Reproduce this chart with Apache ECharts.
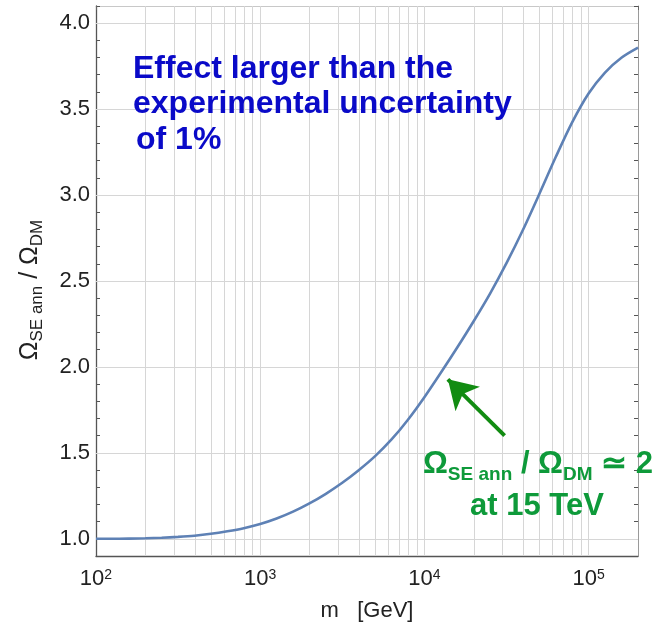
<!DOCTYPE html>
<html>
<head>
<meta charset="utf-8">
<script src="https://cdn.jsdelivr.net/npm/echarts@6/dist/echarts.min.js"></script>
<style>
  html, body { margin: 0; padding: 0; background: #ffffff; }
  #chart { width: 670px; height: 632px; }
</style>
</head>
<body>
<div id="chart"></div>
<script>
// Relic abundance ratio with Sommerfeld enhancement vs. dark-matter mass
const massGeV = [100, 126, 158, 200, 251, 316, 398, 501, 631, 794,
  1000, 1259, 1585, 1995, 2512, 3162, 3981, 5012, 6310, 7943,
  10000, 12589, 15849, 19953, 25119, 31623, 39811, 50119, 63096, 79433,
  100000, 125893, 158489, 200000];
const ratio = [1.000, 1.000, 1.001, 1.003, 1.006, 1.011, 1.018, 1.029, 1.044, 1.062,
  1.086, 1.118, 1.158, 1.206, 1.262, 1.326, 1.399, 1.481, 1.578, 1.693,
  1.824, 1.966, 2.113, 2.266, 2.427, 2.604, 2.797, 3.006, 3.221, 3.423,
  3.591, 3.713, 3.799, 3.858];

// Axis ranges and grid positions
const xRange = [100, 200000];
const yRange = [0.9, 4.1];
const yTickStep = 0.1;
const yLabelValues = [1.0, 1.5, 2.0, 2.5, 3.0, 3.5, 4.0];
const xGridValues = [200, 300, 400, 500, 600, 700, 800, 900, 1000,
  2000, 3000, 4000, 5000, 6000, 7000, 8000, 9000, 10000,
  20000, 30000, 40000, 50000, 60000, 70000, 80000, 90000, 100000];

// Annotation arrow (from the label towards the curve), in data coordinates
const arrowTail = [30800, 1.60];
const arrowHead = [13900, 1.928];

const FONT = "'Liberation Sans', Arial, Helvetica, sans-serif";
const INK = '#222222';
const BLUE = '#0a0ac8';
const GREEN = '#0e9a3a';

const points = massGeV.map((m, i) => [m, ratio[i]]);

function powerLabel(v) {
  const e = Math.log10(v);
  if (Math.abs(e - Math.round(e)) > 1e-6) return '';
  return '{b|10}{s|' + Math.round(e) + '}';
}
function ratioLabel(v) {
  const hit = yLabelValues.some(t => Math.abs(t - v) < 1e-6);
  return hit ? v.toFixed(1) : '';
}

const chart = echarts.init(document.getElementById('chart'), null, { renderer: 'canvas' });

const blueText = (text, x, y) => ({
  type: 'text', x: x, y: y, z: 100,
  style: { text: text, fontFamily: FONT, fontSize: 32, fontWeight: 'bold', fill: BLUE, stroke: null, lineWidth: 0, verticalAlign: 'bottom' }
});

chart.setOption({
  animation: false,
  grid: { left: 96, right: 32, top: 6, bottom: 76 },
  xAxis: [
    {
      type: 'log', logBase: 10, min: xRange[0], max: xRange[1], position: 'bottom',
      name: 'm   [GeV]', nameLocation: 'middle', nameGap: 44,
      nameTextStyle: { fontFamily: FONT, fontSize: 22, color: INK },
      axisLine: { lineStyle: { color: '#555', width: 1.3 } },
      axisTick: { inside: true, length: 5, lineStyle: { color: '#555' } },
      axisLabel: {
        margin: 12, showMaxLabel: false, formatter: powerLabel,
        rich: {
          b: { fontFamily: FONT, fontSize: 22, color: INK },
          s: { fontFamily: FONT, fontSize: 14, color: INK, verticalAlign: 'top' }
        }
      },
      splitLine: { show: false }
    },
    {
      type: 'log', logBase: 10, min: xRange[0], max: xRange[1], position: 'top',
      axisLine: { lineStyle: { color: '#c8c8c8', width: 1 } },
      axisTick: { inside: true, length: 4, lineStyle: { color: '#666' } },
      axisLabel: { show: false },
      splitLine: { show: false }
    }
  ],
  yAxis: [
    {
      type: 'value', min: yRange[0], max: yRange[1], interval: yTickStep, position: 'left',
      name: '{o|Ω}{s|SE ann}{o| / Ω}{s|DM}', nameLocation: 'middle', nameGap: 50, nameRotate: 90,
      nameTextStyle: {
        padding: [0, 18, 0, 0],
        rich: {
          o: { fontFamily: FONT, fontSize: 25, color: INK, lineHeight: 31 },
          s: { fontFamily: FONT, fontSize: 17, color: INK, verticalAlign: 'bottom', lineHeight: 17 }
        }
      },
      axisLine: { lineStyle: { color: '#555', width: 1.3 } },
      axisTick: { inside: true, length: 4, lineStyle: { color: '#555' } },
      axisLabel: { margin: 6, formatter: ratioLabel, fontFamily: FONT, fontSize: 22, color: INK, padding: [3, 0, 0, 0] },
      splitLine: { show: false }
    },
    {
      type: 'value', min: yRange[0], max: yRange[1], interval: yTickStep, position: 'right',
      axisLine: { show: true, lineStyle: { color: '#9a9a9a', width: 1 } },
      axisTick: { show: true, inside: true, length: 4, lineStyle: { color: '#555' } },
      axisLabel: { show: false },
      splitLine: { show: false }
    }
  ],
  series: [
    {
      // carrier for the background grid lines
      type: 'line', data: points, silent: true, showSymbol: false,
      lineStyle: { opacity: 0 }, z: 1,
      markLine: {
        z: 1, silent: true, symbol: 'none', animation: false,
        label: { show: false },
        lineStyle: { color: '#d6d6d6', width: 1, type: 'solid' },
        emphasis: { disabled: true },
        data: xGridValues.map(v => ({ xAxis: v })).concat(yLabelValues.map(v => ({ yAxis: v })))
      }
    },
    {
      type: 'line', data: points, smooth: 0.3,
      showSymbol: false, silent: true, z: 3,
      lineStyle: { color: '#5e81b5', width: 2.6 },
      markLine: {
        silent: true, animation: false,
        symbol: ['none', 'arrow'], symbolSize: [26, 28],
        label: { show: false },
        lineStyle: { color: '#128c12', width: 4, type: 'solid', opacity: 1 },
        emphasis: { disabled: true },
        data: [[{ coord: arrowTail }, { coord: arrowHead }]]
      }
    }
  ],
  graphic: [
    blueText('Effect larger than the', 133, 85),
    blueText('experimental uncertainty', 133, 120),
    blueText('of 1%', 136, 156),
    {
      type: 'text', x: 538, y: 484, z: 100,
      style: {
        text: '{o|Ω}{s|SE ann}{o| / Ω}{s|DM}{o| ≃ 2}',
        align: 'center', verticalAlign: 'bottom', stroke: null, lineWidth: 0,
        rich: {
          o: { fontFamily: FONT, fontSize: 31, fontWeight: 'bold', fill: GREEN, lineHeight: 40 },
          s: { fontFamily: FONT, fontSize: 19, fontWeight: 'bold', fill: GREEN, verticalAlign: 'bottom', lineHeight: 19 }
        }
      }
    },
    {
      type: 'text', x: 537, y: 522, z: 100,
      style: { text: 'at 15 TeV', fontFamily: FONT, fontSize: 31, fontWeight: 'bold', fill: GREEN, stroke: null, lineWidth: 0, align: 'center', verticalAlign: 'bottom' }
    }
  ]
});
</script>
</body>
</html>
